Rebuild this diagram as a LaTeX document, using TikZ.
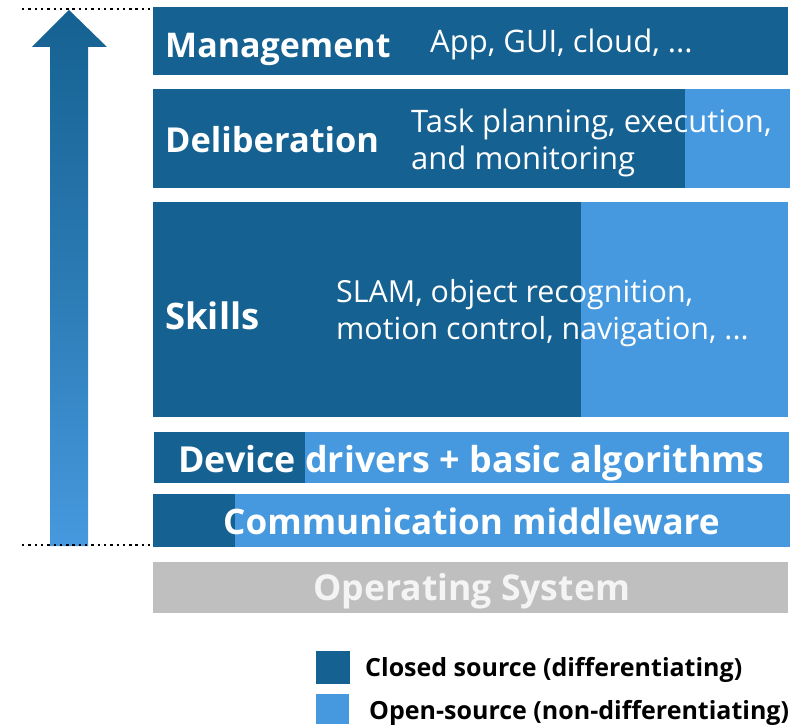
\documentclass[tikz,border=0pt]{standalone}
\usepackage{fontspec}
\setmainfont{Open Sans}
\definecolor{dkblue}{HTML}{156191}
\definecolor{ltblue}{HTML}{4699DE}
\definecolor{osgray}{HTML}{BFBFBF}
\definecolor{osfont}{HTML}{F4F4F4}
\tikzset{
  dk/.style={fill=dkblue},
  lt/.style={fill=ltblue},
  lbl/.style={anchor=base west, inner sep=0pt, text=white, font=\fontsize{#1}{#1}\selectfont\bfseries},
  txt/.style={anchor=base west, inner sep=0pt, text=white, font=\fontsize{#1}{#1}\selectfont},
  legtxt/.style={anchor=base west, inner sep=0pt, text=black, font=\fontsize{25}{25}\selectfont\bfseries},
  dotline/.style={line width=2.4pt, dash pattern=on 2.4pt off 3.9pt, black}
}
\begin{document}
\begin{tikzpicture}[x=1pt,y=-1pt]
\useasboundingbox (0,0) rectangle (804,725);
% arrow
\shade[top color=dkblue, bottom color=ltblue, middle color=dkblue!55!ltblue]
  (50,546) -- (50,47) -- (32,47) -- (69,10) -- (107,47) -- (88,47) -- (88,546) -- cycle;
\coordinate (dt1) at (22,9); \coordinate (dt2) at (150,9);
\coordinate (db1) at (22,545); \coordinate (db2) at (150,545);
\draw[dotline] (dt1) -- (dt2);
\draw[dotline] (db1) -- (db2);
% Management
\fill[dk] (153,7) rectangle (788,75);
\node[lbl=34] (man) at (165,58) {Management};
\node[txt=31] (app) at (430,53) {App, GUI, cloud, ...};
% Deliberation
\fill[dk] (153,89) rectangle (685,188);
\fill[lt] (685,89) rectangle (790,188);
\node[lbl=34.4] (del) at (165,153) {Deliberation};
\node[txt=31] (task1) at (411,132) {Task planning, execution,};
\node[txt=31] (task2) at (411,169) {and monitoring};
% Skills
\fill[dk] (153,202) rectangle (581,417);
\fill[lt] (581,202) rectangle (788,417);
\node[lbl=36.5] (sk) at (165,329) {Skills};
\node[txt=30.4] (sl1) at (336,302) {SLAM, object recognition,};
\node[txt=30.4] (sl2) at (336,339) {motion control, navigation, ...};
% Device drivers
\fill[dk] (154,432) rectangle (305,483);
\fill[lt] (305,432) rectangle (789,483);
\node[lbl=35.8] (dev) at (178,472) {Device drivers + basic algorithms};
% Communication
\fill[dk] (153,494) rectangle (235,547);
\fill[lt] (235,494) rectangle (790,547);
\node[lbl=35.1] (com) at (223,534) {Communication middleware};
% OS
\fill[osgray] (153,562) rectangle (788,613);
\node[lbl=35.6, text=osfont] (os) at (313,600) {Operating System};
% legend
\fill[dk] (316,651) rectangle (350,684);
\fill[lt] (316,694) rectangle (349,724);
\node[legtxt] (leg1) at (365,676) {Closed source (differentiating)};
\node[legtxt] (leg2) at (369,719) {Open-source (non-differentiating)};
\end{tikzpicture}
\end{document}
